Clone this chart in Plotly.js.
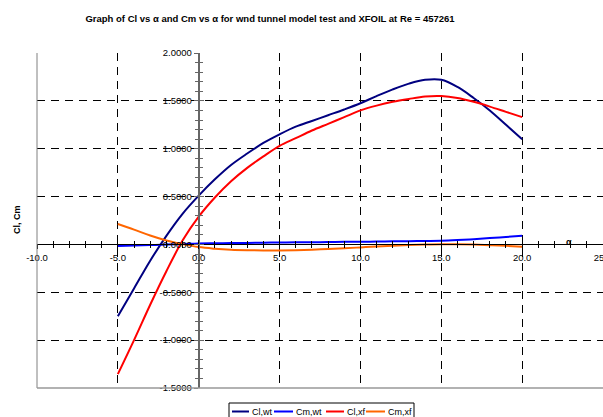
<!DOCTYPE html>
<html>
<head>
<meta charset="utf-8">
<script src="https://cdn.plot.ly/plotly-3.0.1.min.js"></script>
<style>html,body{margin:0;padding:0;background:#fff;}#chart{width:603px;height:417px;}</style>
</head>
<body>
<div id="chart"></div>
<script>
// ---- data ----
const alpha = [-5,-4,-3,-2,-1,0,1,2,3,4,5,6,7,8,9,10,11,12,13,14,15,16,17,18,19,20];
const clWt  = [-0.75,-0.46,-0.17,0.09,0.32,0.51,0.68,0.83,0.95,1.06,1.15,1.23,1.29,1.35,1.41,1.475,1.55,1.62,1.68,1.72,1.72,1.645,1.53,1.40,1.25,1.10];
const cmWt  = [-0.017,-0.012,-0.007,-0.002,0.004,0.010,0.012,0.014,0.016,0.018,0.020,0.022,0.023,0.025,0.027,0.028,0.030,0.032,0.034,0.036,0.038,0.045,0.055,0.066,0.078,0.090];
const clXf  = [-1.355,-1.00,-0.63,-0.28,0.04,0.29,0.49,0.66,0.80,0.92,1.03,1.11,1.19,1.26,1.33,1.40,1.45,1.49,1.52,1.545,1.55,1.53,1.49,1.44,1.385,1.33];
const cmXf  = [0.213,0.155,0.094,0.042,0.003,-0.028,-0.045,-0.056,-0.061,-0.063,-0.063,-0.060,-0.055,-0.048,-0.040,-0.031,-0.022,-0.014,-0.007,-0.001,0.003,0.002,-0.002,-0.008,-0.015,-0.024];
const seriesNames  = ["Cl,wt","Cm,wt","Cl,xf","Cm,xf"];
const seriesColors = ["#000080","#0000FF","#FF0000","#FF6600"];
const xTickVals   = [-10,-5,0,5,10,15,20,25];
const xTickLabels = ["-10.0","-5.0","0.0","5.0","10.0","15.0","20.0","25.0"];
const yTickVals   = [-1.5,-1.0,-0.5,0,0.5,1.0,1.5,2.0];
const yTickLabels = ["-1.5000","-1.0000","-0.5000","0.0000","0.5000","1.0000","1.5000","2.0000"];
const titleText = "Graph of Cl vs α and Cm vs α for wnd tunnel model test and XFOIL at Re = 457261";
const yTitle = "Cl, Cm";
const xTitle = "α";

// ---- layout helpers ----
const W = 603, H = 417, ML = 37, MR = 0, MT = 53, MB = 29;
const PW = W - ML - MR, PH = H - MT - MB;
const px2x = p => (p - ML) / PW;
const py2y = p => (H - MB - p) / PH;
const FONT = "Liberation Sans, Arial, sans-serif";
const xr = [-10, 25], yr = [-1.5, 2.0];
const xPos = (0 - yr[0]) / (yr[1] - yr[0]);
const yPos = (0 - xr[0]) / (xr[1] - xr[0]);

const ys = [clWt, cmWt, clXf, cmXf];
const traces = ys.map((y, i) => ({
  type: "scatter", mode: "lines", x: alpha, y: y, name: seriesNames[i],
  line: {color: seriesColors[i], width: 2, shape: "spline", smoothing: 1},
  showlegend: false, hoverinfo: "skip", xaxis: "x", yaxis: "y"
}));
traces.push({type: "scatter", mode: "lines", x: [], y: [], xaxis: "x2", yaxis: "y2", showlegend: false, hoverinfo: "skip"});

const baseX = {range: xr, autorange: false, tickmode: "array", tickvals: xTickVals, zeroline: false, fixedrange: true};
const baseY = {range: yr, autorange: false, tickmode: "array", tickvals: yTickVals, zeroline: false, fixedrange: true};

// legend (manual, Excel-like)
const legLines = [232, 274, 326, 366];
const legLineLen = [17, 19, 18, 19];
const legText = [250, 294, 345, 386];
const legY = 411.5;
const shapes = [
  {type: "line", xref: "paper", yref: "paper", x0: 0, x1: 0, y0: 0, y1: 1, line: {color: "#808080", width: 1}, layer: "above"},
  {type: "line", xref: "paper", yref: "paper", x0: 0, x1: 1, y0: 0, y1: 0, line: {color: "#999999", width: 1.5}, layer: "above"},
  {type: "rect", xref: "paper", yref: "paper", x0: px2x(229), x1: px2x(414), y0: py2y(403), y1: py2y(421), line: {color: "#000", width: 1}, fillcolor: "rgba(0,0,0,0)", layer: "above"}
];
const annotations = [
  {text: "<b>" + yTitle + "</b>", xref: "paper", yref: "paper", x: px2x(17), y: py2y(220), textangle: -90, showarrow: false, font: {family: FONT, size: 9, color: "#000"}, xanchor: "center", yanchor: "middle"},
  {text: "<b>" + xTitle + "</b>", xref: "paper", yref: "paper", x: px2x(569), y: py2y(242), showarrow: false, font: {family: FONT, size: 9, color: "#000"}, xanchor: "center", yanchor: "middle"}
];
seriesNames.forEach((n, i) => {
  shapes.push({type: "line", xref: "paper", yref: "paper", x0: px2x(legLines[i]), x1: px2x(legLines[i] + legLineLen[i]), y0: py2y(legY), y1: py2y(legY), line: {color: seriesColors[i], width: 2}, layer: "above"});
  annotations.push({text: n, xref: "paper", yref: "paper", x: px2x(legText[i]), y: py2y(legY), xanchor: "left", yanchor: "middle", showarrow: false, font: {family: FONT, size: 9, color: "#000"}});
});

const layout = {
  width: W, height: H,
  margin: {l: ML, r: MR, t: MT, b: MB, pad: 0},
  paper_bgcolor: "#fff", plot_bgcolor: "#fff",
  font: {family: FONT, size: 9.5, color: "#000"},
  title: {text: "<b>" + titleText + "</b>", x: 270 / W, xref: "container", xanchor: "center", y: 1 - 19 / H, yref: "container", yanchor: "middle", font: {family: FONT, size: 9.5, color: "#000"}},
  showlegend: false,
  xaxis: Object.assign({}, baseX, {
    anchor: "free", position: xPos, ticktext: xTickLabels, showticklabels: true,
    ticklabeloverflow: "allow",
    ticks: "outside", ticklen: 4, tickcolor: "#000", tickwidth: 1,
    showline: true, linecolor: "#000", linewidth: 1, showgrid: false,
    tickfont: {family: FONT, size: 9.5, color: "#000"},
    minor: {tickmode: "linear", tick0: 0, dtick: 1, ticks: "outside", ticklen: 3, tickcolor: "#000", showgrid: false}
  }),
  xaxis2: Object.assign({}, baseX, {
    overlaying: "x", anchor: "free", position: xPos, showticklabels: false,
    ticks: "inside", ticklen: 4, tickcolor: "#000", tickwidth: 1,
    showline: false, showgrid: true, gridcolor: "#000", gridwidth: 1, griddash: "8px,6px",
    minor: {tickmode: "linear", tick0: 0, dtick: 1, ticks: "inside", ticklen: 3, tickcolor: "#000", showgrid: false}
  }),
  yaxis: Object.assign({}, baseY, {
    anchor: "free", position: yPos, ticktext: yTickLabels, showticklabels: true,
    ticks: "outside", ticklen: 4, tickcolor: "#666", tickwidth: 1,
    showline: true, linecolor: "#666", linewidth: 2, showgrid: false,
    tickfont: {family: FONT, size: 9.5, color: "#000"},
    minor: {tickmode: "linear", tick0: 0, dtick: 0.1, ticks: "outside", ticklen: 3, tickcolor: "#666", showgrid: false}
  }),
  yaxis2: Object.assign({}, baseY, {
    overlaying: "y", anchor: "free", position: yPos, showticklabels: false,
    ticks: "inside", ticklen: 4, tickcolor: "#666", tickwidth: 1,
    showline: false, showgrid: true, gridcolor: "#000", gridwidth: 1, griddash: "8px,6px",
    minor: {tickmode: "linear", tick0: 0, dtick: 0.1, ticks: "inside", ticklen: 3, tickcolor: "#666", showgrid: false}
  }),
  shapes: shapes,
  annotations: annotations
};

Plotly.newPlot("chart", traces, layout, {staticPlot: true, displayModeBar: false});
</script>
</body>
</html>
